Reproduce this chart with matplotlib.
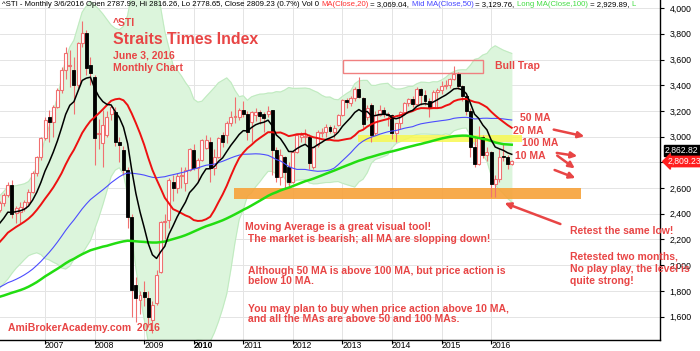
import matplotlib
matplotlib.use('Agg')
import matplotlib.pyplot as plt
from matplotlib.patches import Rectangle
from matplotlib.transforms import ScaledTranslation
import numpy as np
import pandas as pd

plt.rcParams['font.family'] = ['Liberation Sans', 'DejaVu Sans']

# monthly closes 1997-2005, only used to warm up the moving averages
pre_closes = [
    2200, 2150, 2050, 1950, 2000, 1990, 1950, 1750, 1750, 1580, 1600, 1530,
    1300, 1480, 1410, 1300, 1100, 1000, 990, 820, 860, 1150, 1200, 1390,
    1450, 1450, 1630, 1860, 1850, 2070, 2000, 2010, 2030, 2100, 2150, 2480,
    2250, 2050, 2130, 2000, 1880, 2000, 2000, 2050, 1940, 1900, 1870, 1930,
    2000, 1900, 1650, 1700, 1770, 1730, 1600, 1570, 1300, 1400, 1550, 1620,
    1700, 1720, 1800, 1720, 1650, 1570, 1530, 1520, 1400, 1450, 1400, 1340,
    1300, 1270, 1280, 1330, 1450, 1450, 1580, 1640, 1640, 1770, 1710, 1760,
    1850, 1830, 1810, 1780, 1790, 1810, 1840, 1860, 1950, 2000, 2060, 2070,
    2090, 2120, 2100, 2150, 2220, 2260, 2320, 2300, 2380, 2280, 2330, 2347,
]

# ^STI monthly candles, Jan 2006 .. Jun 2016
opens = [
    2347, 2430, 2480, 2545, 2625, 2405, 2415, 2445, 2490, 2570, 2717, 2840,
    2990, 3150, 3115, 3230, 3360, 3520, 3550, 3520, 3400, 3730, 3806, 3557,
    3465, 3020, 2950, 3015, 3180, 3190, 2960, 2895, 2740, 2375, 1845, 1730,
    1792, 1745, 1575, 1705, 1947, 2335, 2350, 2650, 2600, 2690, 2640, 2740,
    2895, 2755, 2820, 2915, 2960, 2755, 2840, 3010, 3010, 3105, 3150, 3150,
    3210, 3180, 3115, 3170, 3190, 3180, 3180, 3205, 2895, 2685, 2840, 2765,
    2647, 2880, 2995, 3000, 2997, 2765, 2935, 3030, 3035, 3075, 3040, 3090,
    3170, 3285, 3260, 3300, 3370, 3300, 3150, 3245, 3030, 3170, 3210, 3180,
    3167, 3027, 3110, 3190, 3265, 3296, 3256, 3374, 3327, 3277, 3229, 3350,
    3365, 3391, 3402, 3447, 3487, 3392, 3317, 3202, 2921, 2791, 2998, 2856,
    2883, 2629, 2667, 2841, 2838, 2788,
]
highs = [
    2440, 2500, 2560, 2650, 2660, 2460, 2490, 2510, 2590, 2730, 2850, 3000,
    3150, 3210, 3250, 3380, 3540, 3700, 3675, 3620, 3740, 3900, 3830, 3620,
    3480, 3140, 3210, 3200, 3250, 3230, 3000, 2930, 2760, 2400, 1910, 1800,
    1880, 1800, 1720, 1960, 2340, 2400, 2680, 2700, 2720, 2760, 2760, 2910,
    2940, 2830, 2980, 3010, 3000, 2900, 3000, 3040, 3120, 3200, 3310, 3220,
    3280, 3200, 3200, 3220, 3210, 3190, 3240, 3210, 2920, 2900, 2850, 2800,
    2890, 3020, 3040, 3060, 3020, 2930, 3050, 3070, 3100, 3090, 3090, 3180,
    3290, 3300, 3320, 3390, 3465, 3310, 3250, 3260, 3200, 3250, 3230, 3190,
    3180, 3110, 3200, 3270, 3300, 3320, 3390, 3380, 3360, 3300, 3360, 3380,
    3430, 3440, 3460, 3550, 3500, 3400, 3340, 3220, 2990, 3080, 3010, 2920,
    2890, 2700, 2900, 2950, 2860, 2816,
]
lows = [
    2330, 2410, 2460, 2530, 2370, 2330, 2330, 2420, 2470, 2560, 2690, 2820,
    2970, 2960, 3000, 3220, 3340, 3450, 3390, 3180, 3380, 3700, 3480, 3400,
    2780, 2900, 2760, 3000, 3130, 2930, 2800, 2700, 2290, 1600, 1560, 1620,
    1680, 1520, 1470, 1690, 1940, 2200, 2290, 2500, 2560, 2600, 2580, 2730,
    2740, 2650, 2810, 2900, 2650, 2700, 2830, 2920, 2950, 3080, 3110, 3130,
    3150, 2970, 2960, 3120, 3100, 3040, 3150, 2700, 2650, 2620, 2600, 2600,
    2640, 2870, 2960, 2950, 2750, 2750, 2920, 3000, 3000, 3030, 2990, 3080,
    3160, 3220, 3240, 3280, 3300, 3070, 3130, 2960, 3010, 3160, 3150, 3080,
    2980, 2960, 3060, 3170, 3240, 3230, 3250, 3250, 3250, 3150, 3220, 3220,
    3330, 3370, 3380, 3440, 3370, 3280, 3170, 2840, 2760, 2780, 2830, 2810,
    2530, 2530, 2650, 2810, 2750, 2779,
]
closes = [
    2430, 2480, 2545, 2625, 2400, 2445, 2453, 2490, 2570, 2717, 2840, 2990,
    3130, 3115, 3230, 3360, 3520, 3650, 3560, 3400, 3730, 3806, 3535, 3495,
    2990, 3030, 3090, 3150, 3230, 2960, 2935, 2740, 2375, 1807, 1745, 1770,
    1752, 1598, 1690, 1925, 2335, 2340, 2663, 2600, 2690, 2700, 2740, 2900,
    2755, 2820, 2975, 2970, 2755, 2840, 2990, 2960, 3105, 3150, 3160, 3210,
    3180, 3035, 3190, 3190, 3160, 3145, 3200, 2895, 2685, 2857, 2725, 2647,
    2880, 3013, 3010, 3005, 2795, 2920, 3035, 3040, 3075, 3045, 3070, 3170,
    3285, 3270, 3300, 3370, 3310, 3100, 3220, 3012, 3170, 3210, 3180, 3167,
    3027, 3110, 3190, 3265, 3296, 3256, 3374, 3327, 3277, 3229, 3350, 3365,
    3391, 3402, 3447, 3487, 3392, 3317, 3202, 2921, 2791, 2998, 2856, 2883,
    2629, 2667, 2841, 2838, 2791, 2809,
]
year_labels = ['2007', '2008', '2009', '2010', '2011', '2012', '2013', '2014', '2015', '2016']
price_ticks = [1600, 1800, 2000, 2200, 2400, 2600, 2800, 3000, 3200, 3400, 3600, 3800, 4000]
last_tags = ['2,862.82', '2,809.23']

RED = '#E84545'
W, H = 700, 351

# indicators
full = pd.Series(pre_closes + closes, dtype=float)
n_pre = len(pre_closes)
ema10 = full.ewm(span=10, adjust=False).mean().values[n_pre:]
ma20 = full.rolling(20).mean().values[n_pre:]
ma50 = full.rolling(50).mean().values[n_pre:]
ma100 = full.rolling(100).mean().values[n_pre:]
sd20 = full.rolling(20).std(ddof=0).values[n_pre:]
idx = np.arange(len(closes))

fig = plt.figure(figsize=(7, 3.51), dpi=100)
ax = fig.add_axes([0, 11 / H, 660 / W, 340 / H])
ax.set_xlim(1.1, 160.9)
ax.set_ylim(1418, 4063)

# bollinger band
ax.fill_between(idx, ma20 - 2 * sd20, ma20 + 2 * sd20, color='#dcf5dc', zorder=1)
ax.plot(idx, ma20 + 2 * sd20, color='#bfeabf', lw=0.7, zorder=1)
ax.plot(idx, ma20 - 2 * sd20, color='#bfeabf', lw=0.7, zorder=1)

# highlight zones
ax.add_patch(Rectangle((57.8, 2515), 84, 85, fc='#F7A23A', ec='none', alpha=0.9, zorder=2))
ax.add_patch(Rectangle((87.8, 2955), 39.7, 60, fc='#F8F850', ec='none', alpha=0.85, zorder=2))
ax.add_patch(Rectangle((84.2, 3495), 33.9, 101, fc='none', ec='#F08080', lw=1, zorder=2))

# candles
o = np.array(opens); c = np.array(closes)
up = c >= o
ax.vlines(idx, lows, highs, color='#F07070', lw=0.8, zorder=3)
body = np.maximum(np.abs(c - o), 8)
ax.bar(idx[up], body[up], bottom=np.minimum(o, c)[up], width=0.72,
       color='white', edgecolor='#F07070', lw=0.8, zorder=3.5)
ax.bar(idx[~up], body[~up], bottom=np.minimum(o, c)[~up], width=0.72,
       color='black', edgecolor='black', lw=0.6, zorder=3.5)

# moving averages
ax.plot(idx, ma100, color='#22DD11', lw=1.8, zorder=4)
ax.plot(idx, ma50, color='#4C4CFF', lw=0.8, zorder=4)
ax.plot(idx, ma20, color='#EE1111', lw=1.4, zorder=4)
ax.plot(idx, ema10, color='black', lw=1.1, zorder=4)

# axes styling
ax.yaxis.tick_right()
ax.set_yticks(price_ticks)
ax.set_yticklabels([f'{v:,}' for v in price_ticks])
ax.set_xticks(np.arange(12, 121, 12))
ax.set_xticklabels(year_labels, ha='left')
off = ScaledTranslation(2.5 / 72, 0, fig.dpi_scale_trans)
for lab in ax.get_xticklabels():
    lab.set_transform(lab.get_transform() + off)
    if lab.get_text() == '2010':
        lab.set_fontweight('bold')
ax.tick_params(axis='y', length=3, width=0.8, labelsize=6.3, pad=4)
ax.tick_params(axis='x', length=3, width=0.8, labelsize=6.2, pad=-2.5)
ax.grid(True, color='#E4E4E4', lw=0.7)
ax.set_axisbelow(True)
for s in ['left', 'top']:
    ax.spines[s].set_visible(False)
for s in ['right', 'bottom']:
    ax.spines[s].set_linewidth(1)


def ftxt(x, y, s, **kw):
    kw.setdefault('color', RED)
    kw.setdefault('fontsize', 7.5)
    kw.setdefault('fontweight', 'bold')
    return fig.text(x / W, 1 - y / H, s, va='center', ha='left', **kw)


def arrow(x0, y0, x1, y1):
    ax.annotate('', xy=(x1, H - y1), xytext=(x0, H - y0),
                xycoords='figure pixels', textcoords='figure pixels',
                arrowprops=dict(arrowstyle='-|>', color=RED, lw=1.8, mutation_scale=9))


# header line
header = [
    ('^STI - Monthly 3/6/2016 Open 2787.99, Hi 2816.26, Lo 2778.65, Close 2809.23 (0.7%) Vol 0 ', 'black'),
    ('MA(Close,20)', '#FF3030'), (' = 3,069.04, ', 'black'),
    ('Mid MA(Close,50)', '#4444FF'), (' = 3,129.76, ', 'black'),
    ('Long MA(Close,100)', '#44DD44'), (' = 2,929.89, ', 'black'),
    ('L', '#44DD44'),
]
r = fig.canvas.get_renderer()
hx = 2
for s, col in header:
    t = ftxt(hx, 5, s, color=col, fontsize=5.6, fontweight='normal')
    hx += t.get_window_extent(r).width

ftxt(113, 22.5, '^STI')
ftxt(113, 40, 'Straits Times Index', fontsize=11.4)
ftxt(113, 55, 'June 3, 2016')
ftxt(113, 68, 'Monthly Chart')
ftxt(495, 66, 'Bull Trap')
ftxt(520, 117.5, '50 MA')
ftxt(513, 131, '20 MA')
ftxt(522, 142.5, '100 MA')
ftxt(515, 156, '10 MA')
ftxt(570, 230.5, 'Retest the same low!')
ftxt(570, 268.5, 'Retested two months,\nNo play play, the level is\nquite strong!', linespacing=1.25)
ftxt(245, 233, 'Moving Average is a great visual tool!\n The market is bearish; all MA are slopping down!', linespacing=1.3)
ftxt(248, 276, 'Although 50 MA is above 100 MA, but price action is\nbelow 10 MA.', linespacing=1.1)
ftxt(248, 314, 'You may plan to buy when price action above 10 MA,\nand all the MAs are above 50 and 100 MAs.', linespacing=1.1)
ftxt(8, 328, 'AmiBrokerAcademy.com  2016')

arrow(551, 129, 587, 137)
arrow(554, 152.5, 580, 156.5)
arrow(555, 154, 577, 170)
arrow(552, 169, 578, 179)
arrow(563, 225, 502, 202)

# last value tags
ftxt(665, 150.5, last_tags[0], color='white', fontsize=6.2, fontweight='normal',
     bbox=dict(boxstyle='square,pad=0.12', fc='black', ec='black'))
ftxt(668, 161.5, last_tags[1], color='white', fontsize=6.2, fontweight='normal',
     bbox=dict(boxstyle='larrow,pad=0.08', fc='#FF1E1E', ec='#FF1E1E'))

fig.savefig('out.png', dpi=100)
